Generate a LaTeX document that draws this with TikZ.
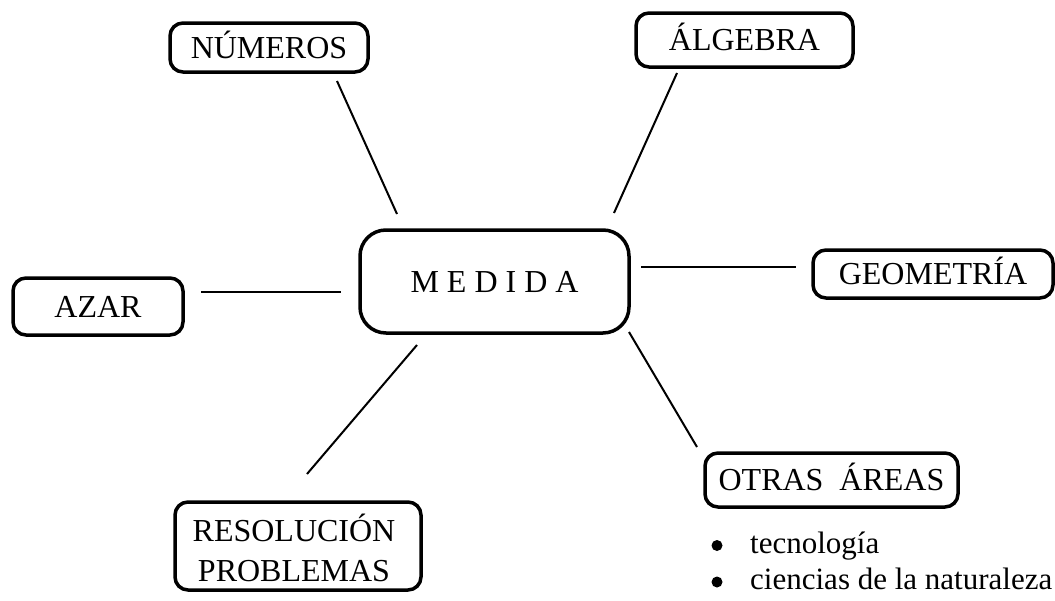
\documentclass[tikz,border=0pt]{standalone}
\usepackage{fontspec}
\setmainfont{Liberation Serif}
\begin{document}
\begin{tikzpicture}[x=1pt,y=-1pt,
  boxbase/.style={draw, line width=3.5pt, rounded corners=13pt, inner sep=0pt,
    font=\fontsize{32}{41}\selectfont},
  topic/.style={boxbase, text height=21pt, text depth=0pt},
  hub/.style={topic, rounded corners=26pt},
  link/.style={line width=2pt},
  item/.style={anchor=base west, inner sep=0pt, font=\fontsize{31}{36}\selectfont},
  dot/.style={circle, fill, inner sep=0pt, minimum size=11pt}]
\useasboundingbox (0,0) rectangle (1055,600);

% central concept
\node[hub, minimum width=269pt, minimum height=103pt] (medida) at (494.5,281.5) {M E D I D A};

% related areas
\node[topic, minimum width=198pt, minimum height=49pt] (numeros) at (269,47.5) {NÚMEROS};
\node[topic, minimum width=217pt, minimum height=54pt] (algebra) at (744.5,40) {ÁLGEBRA};
\node[topic, minimum width=240pt, minimum height=48pt] (geometria) at (933,274) {GEOMETRÍA};
\node[topic, minimum width=170pt, minimum height=57pt] (azar) at (98,306.5) {AZAR};
\node[topic, minimum width=253pt, minimum height=54pt] (otras) at (831.5,480) {OTRAS\ \ ÁREAS};
\node[boxbase, minimum width=246pt, minimum height=88pt] (resolucion) at (298,546) {};
\node[inner sep=0pt, align=center, font=\fontsize{32}{40}\selectfont]
  (resoltext) at (294,548) {RESOLUCIÓN\\PROBLEMAS};

% connector end points (the lines stop short of the boxes)
\coordinate (n1) at (337,81);   \coordinate (n2) at (397,214);
\coordinate (a1) at (677,73);   \coordinate (a2) at (614,213);
\coordinate (g1) at (641,267);  \coordinate (g2) at (796,267);
\coordinate (z1) at (201,292);  \coordinate (z2) at (341,292);
\coordinate (r1) at (417,345);  \coordinate (r2) at (307,474);
\coordinate (o1) at (629,332);  \coordinate (o2) at (697,447);

\draw[link] (n1) -- (n2);
\draw[link] (a1) -- (a2);
\draw[link] (g1) -- (g2);
\draw[link] (z1) -- (z2);
\draw[link] (r1) -- (r2);
\draw[link] (o1) -- (o2);

% list under OTRAS ÁREAS
\node[dot] (b1) at (717,545.5) {};
\node[dot] (b2) at (717,582) {};
\node[item] (tec) at (750,553) {tecnología};
\node[item] (cien) at (750,589) {ciencias de la naturaleza};
\end{tikzpicture}
\end{document}
